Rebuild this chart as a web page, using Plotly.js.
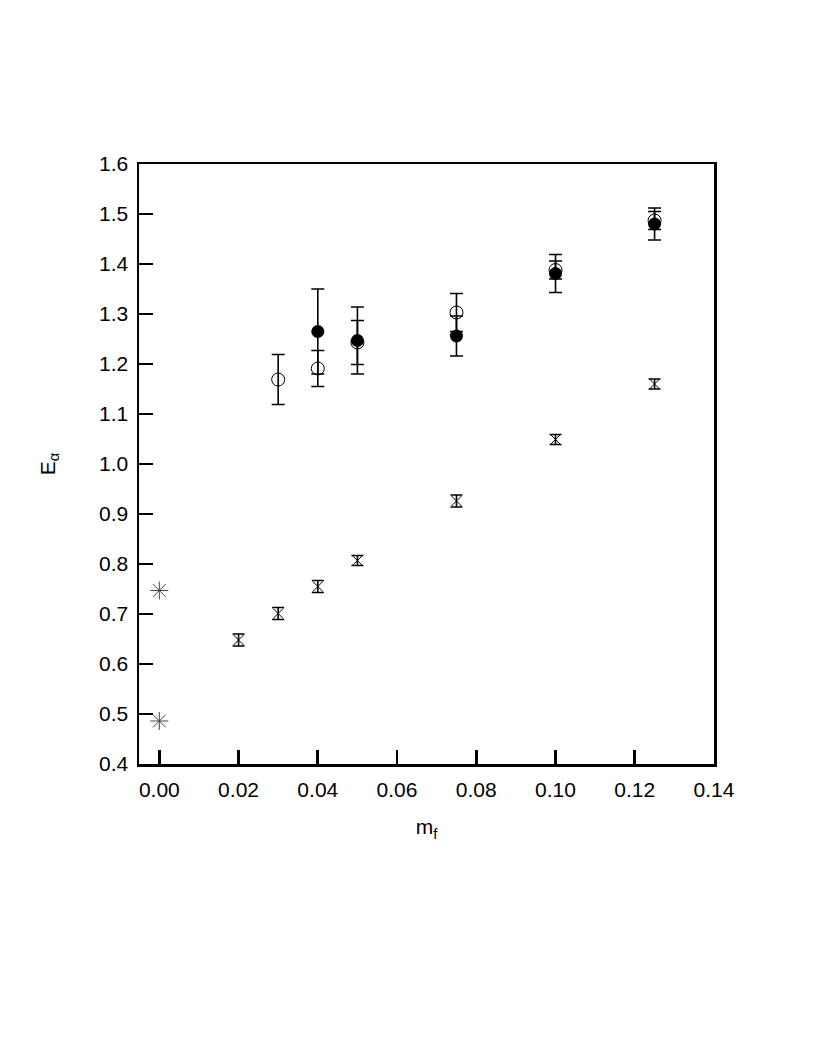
<!DOCTYPE html>
<html>
<head>
<meta charset="utf-8">
<script src="https://cdn.plot.ly/plotly-3.0.1.min.js"></script>
<style>
  body { margin: 0; background: #fff; }
  #myPlot { width: 817px; height: 1058px; }
</style>
</head>
<body>
<div id="myPlot"></div>
<script>
// filled circles
var filled_x = [0.04, 0.05, 0.075, 0.10, 0.125];
var filled_y = [1.265, 1.247, 1.256, 1.381, 1.480];
var filled_err = [0.085, 0.067, 0.040, 0.038, 0.032];

// open circles
var open_x = [0.03, 0.04, 0.05, 0.075, 0.10, 0.125];
var open_y = [1.169, 1.191, 1.243, 1.303, 1.388, 1.487];
var open_err = [0.050, 0.036, 0.044, 0.038, 0.018, 0.018];

// crosses with small error bars
var cross_x = [0.02, 0.03, 0.04, 0.05, 0.075, 0.10, 0.125];
var cross_y = [0.648, 0.701, 0.755, 0.807, 0.926, 1.049, 1.160];
var cross_err = [0.012, 0.012, 0.012, 0.010, 0.012, 0.010, 0.010];

// asterisks at m_f = 0
var star_x = [0.0, 0.0];
var star_y = [0.747, 0.486];

var xTicks = [0.00, 0.02, 0.04, 0.06, 0.08, 0.10, 0.12, 0.14];
var xTickText = ["0.00", "0.02", "0.04", "0.06", "0.08", "0.10", "0.12", "0.14"];
var yTicks = [0.4, 0.5, 0.6, 0.7, 0.8, 0.9, 1.0, 1.1, 1.2, 1.3, 1.4, 1.5, 1.6];
var yTickText = ["0.4", "0.5", "0.6", "0.7", "0.8", "0.9", "1.0", "1.1", "1.2", "1.3", "1.4", "1.5", "1.6"];

function errBar(arr, w) {
    return {type: 'data', array: arr, visible: true, color: '#000', thickness: 1.6, width: w};
}

var traces = [
    {
        x: open_x, y: open_y, mode: 'markers', type: 'scatter',
        marker: {symbol: 'circle-open', size: 13, color: '#000', line: {width: 1}},
        error_y: errBar(open_err, 6.5)
    },
    {
        x: filled_x, y: filled_y, mode: 'markers', type: 'scatter',
        marker: {symbol: 'circle', size: 13, color: '#000'},
        error_y: errBar(filled_err, 6.5)
    },
    {
        x: cross_x, y: cross_y, mode: 'markers', type: 'scatter',
        marker: {symbol: 'x-thin-open', size: 10, color: '#000', line: {width: 1, color: '#000'}},
        error_y: errBar(cross_err, 6)
    },
    {
        x: star_x, y: star_y, mode: 'markers', type: 'scatter',
        marker: {symbol: 'asterisk-open', size: 15, color: '#444', line: {width: 1, color: '#444'}}
    }
];

var axisFont = {family: 'Liberation Sans, Arial, sans-serif', size: 21, color: '#000'};

var layout = {
    width: 817,
    height: 1058,
    showlegend: false,
    plot_bgcolor: '#fff',
    paper_bgcolor: '#fff',
    margin: {l: 139, r: 103, t: 164, b: 294},
    font: axisFont,
    xaxis: {
        range: [-0.00513, 0.14],
        tickvals: xTicks,
        ticktext: xTickText,
        ticks: 'inside',
        ticklen: 14,
        tickwidth: 2.8,
        tickcolor: '#000',
        showline: true,
        linewidth: 2.5,
        linecolor: '#000',
        mirror: true,
        showgrid: false,
        zeroline: false,
        ticklabelstandoff: 5,
        tickfont: axisFont,
        title: {text: 'm<sub>f</sub>', font: axisFont, standoff: 20}
    },
    yaxis: {
        range: [0.4, 1.6],
        tickvals: yTicks,
        ticktext: yTickText,
        ticks: 'inside',
        ticklen: 14,
        tickwidth: 2.8,
        tickcolor: '#000',
        showline: true,
        linewidth: 2.5,
        linecolor: '#000',
        mirror: true,
        showgrid: false,
        zeroline: false,
        ticklabelstandoff: 4,
        tickfont: axisFont,
        title: {text: 'E<sub>α</sub>', font: axisFont, standoff: 38}
    }
};

Plotly.newPlot('myPlot', traces, layout, {displayModeBar: false, staticPlot: true});
</script>
</body>
</html>
